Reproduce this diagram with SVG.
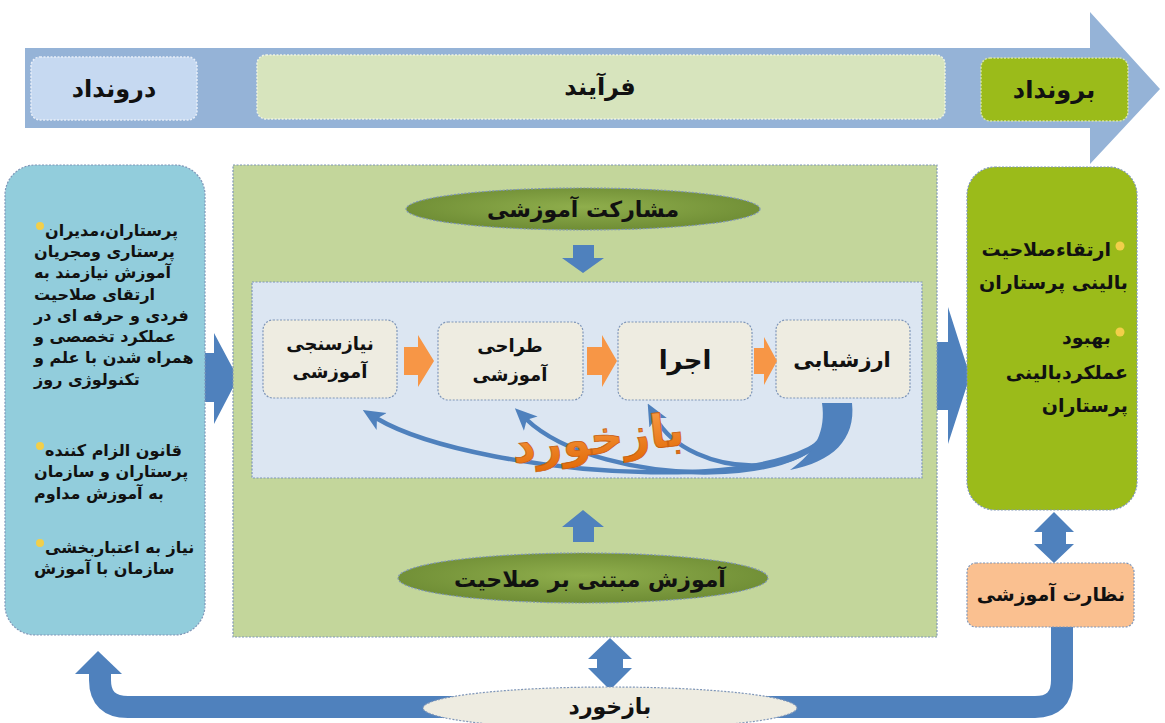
<svg xmlns="http://www.w3.org/2000/svg" width="1165" height="723" viewBox="0 0 1165 723">
<style>
.t{font-family:"DejaVu Sans","Noto Sans",sans-serif;font-weight:bold;fill:#111}
.bd{stroke:#7f96b8;stroke-width:1.2;stroke-dasharray:2 1.5}
.step{fill:#eeece1}
.blue{fill:#4f81bd}
.org{fill:#f79646}
.bul{fill:#f2cf4a}
</style>
<defs>
<radialGradient id="olive" cx="50%" cy="45%" r="60%">
<stop offset="0" stop-color="#8fae4c"/>
<stop offset="1" stop-color="#6c8a33"/>
</radialGradient>
<linearGradient id="orangeText" x1="0" y1="0" x2="0" y2="1">
<stop offset="0" stop-color="#f9a04a"/>
<stop offset="1" stop-color="#e36c0a"/>
</linearGradient>
<marker id="ah" viewBox="0 0 20 20" refX="6" refY="10" markerWidth="22" markerHeight="22" markerUnits="userSpaceOnUse" orient="auto">
<path d="M0,1 L20,10 L0,19 L5,10 z" fill="#4f81bd"/>
</marker>
</defs>
<rect width="1165" height="723" fill="#fff"/>

<g id="top-arrow">
<polygon points="25,48 1090,48 1090,12 1160,89 1090,164 1090,128 25,128" fill="#95b3d7"/>
</g>
<g id="input-label">
<rect x="31" y="57" width="166" height="63" rx="9" fill="#c6d9f1" stroke="#e8eef8" stroke-width="1.5" stroke-dasharray="2 1.5"/>
<text class="t" x="114" y="97" font-size="24" text-anchor="middle">درونداد</text>
</g>
<g id="process-label">
<rect x="257" y="55" width="688" height="64" rx="9" fill="#d7e4bd" stroke="#eef3e2" stroke-width="1.5" stroke-dasharray="2 1.5"/>
<text class="t" x="600" y="95" font-size="24" text-anchor="middle">فرآیند</text>
</g>
<g id="output-label">
<rect x="981" y="58" width="147" height="63" rx="9" fill="#9bbb1a" stroke="#d6e4a6" stroke-width="1.5" stroke-dasharray="2 1.5"/>
<text class="t" x="1054" y="98" font-size="24" text-anchor="middle">برونداد</text>
</g>

<g id="connectors">
<polygon class="blue" points="205,353 214,353 214,333 238,378 214,424 214,402 205,402"/>
<polygon class="blue" points="937,342 948,342 948,307 970,376 948,444 948,410 937,410"/>
<polygon class="blue" points="1054,512 1074,532 1066,532 1066,544 1074,544 1054,563 1034,544 1042,544 1042,532 1034,532"/>
<polygon class="blue" points="610,638 632,659 623,659 623,668 632,668 610,690 588,668 597,668 597,659 588,659"/>
<path d="M1062,627 V680 Q1062,707 1035,707 H128 Q100,707 100,680 V671" fill="none" stroke="#4f81bd" stroke-width="22"/>
<polygon class="blue" points="98,651 122,674 75,674"/>
</g>

<g id="input-box">
<rect x="5" y="165" width="200" height="470" rx="30" fill="#92cddc" class="bd"/>
<g class="t" font-size="16">
<circle class="bul" cx="40" cy="226" r="4"/>
<text x="45" y="236">پرستاران،مدیران</text>
<text x="34" y="257">پرستاری ومجریان</text>
<text x="34" y="278">آموزش نیازمند به</text>
<text x="34" y="300">ارتقای صلاحیت</text>
<text x="34" y="321">فردی و حرفه ای در</text>
<text x="34" y="342">عملکرد تخصصی و</text>
<text x="34" y="363">همراه شدن با علم و</text>
<text x="34" y="385">تکنولوژی روز</text>
<circle class="bul" cx="40" cy="446" r="4"/>
<text x="45" y="456">قانون الزام کننده</text>
<text x="34" y="477">پرستاران و سازمان</text>
<text x="34" y="499">به آموزش مداوم</text>
<circle class="bul" cx="40" cy="543" r="4"/>
<text x="45" y="553">نیاز به اعتباربخشی</text>
<text x="34" y="574">سازمان با آموزش</text>
</g>
</g>

<g id="process-box">
<rect x="233" y="165" width="704" height="472" fill="#c3d69b" class="bd"/>
</g>

<g id="participation">
<ellipse cx="583" cy="209" rx="177" ry="21" fill="url(#olive)" class="bd"/>
<text class="t" x="583" y="217" font-size="22" text-anchor="middle">مشارکت آموزشی</text>
</g>
<polygon class="blue" points="573,245 594,245 594,258 604,258 583,273 562,258 573,258"/>

<g id="cycle-box">
<rect x="252" y="282" width="670" height="196" fill="#dce6f2" class="bd"/>
</g>

<g id="needs">
<rect x="263" y="320" width="134" height="78" rx="10" class="step bd"/>
<text class="t" x="330" y="350" font-size="18" text-anchor="middle">نیازسنجی</text>
<text class="t" x="330" y="378" font-size="18" text-anchor="middle">آموزشی</text>
</g>
<g id="design">
<rect x="438" y="322" width="145" height="78" rx="10" class="step bd"/>
<text class="t" x="510" y="352" font-size="18" text-anchor="middle">طراحی</text>
<text class="t" x="510" y="381" font-size="18" text-anchor="middle">آموزشی</text>
</g>
<g id="implement">
<rect x="618" y="322" width="134" height="78" rx="10" class="step bd"/>
<text class="t" x="685" y="369" font-size="26" text-anchor="middle">اجرا</text>
</g>
<g id="evaluate">
<rect x="776" y="320" width="134" height="78" rx="10" class="step bd"/>
<text class="t" x="842" y="367" font-size="21" text-anchor="middle">ارزشیابی</text>
</g>

<g id="cycle-connectors">
<polygon class="org" points="404,347 418,347 418,335 434,361 418,387 418,375 404,375"/>
<polygon class="org" points="587,347 602,347 602,335 617,361 602,387 602,375 587,375"/>
<polygon class="org" points="754,348 764,348 764,337 777,361 764,385 764,374 754,374"/>
<path d="M838,405 C852,505 480,480 376,418" fill="none" stroke="#4f81bd" stroke-width="4.5" marker-end="url(#ah)"/>
<path d="M836,405 C842,495 600,490 526,419" fill="none" stroke="#4f81bd" stroke-width="4.5" marker-end="url(#ah)"/>
<path d="M834,405 C830,485 690,482 655,417" fill="none" stroke="#4f81bd" stroke-width="4.5" marker-end="url(#ah)"/>
<path d="M822,403 L852,403 C856,440 832,462 790,470 C816,452 826,430 822,403 Z" fill="#4f81bd"/>
</g>
<text class="t" x="598" y="454" font-size="46" text-anchor="middle" stroke="#c85f10" stroke-width="0.8" transform="rotate(-6 598 440)" style="fill:url(#orangeText)">بازخورد</text>

<polygon class="blue" points="583,510 604,527 594,527 594,542 573,542 573,527 562,527"/>
<g id="competency">
<ellipse cx="583" cy="578" rx="185" ry="25" fill="url(#olive)" class="bd"/>
<text class="t" x="590" y="587" font-size="22" text-anchor="middle">آموزش مبتنی بر صلاحیت</text>
</g>

<g id="output-box">
<rect x="967" y="167" width="170" height="343" rx="28" fill="#9bbb1a" class="bd"/>
<g class="t" font-size="19" text-anchor="end">
<circle class="bul" cx="1120" cy="246" r="4.5"/>
<text x="1111" y="256">ارتقاءصلاحیت</text>
<text x="1128" y="289">بالینی پرستاران</text>
<circle class="bul" cx="1120" cy="332" r="4.5"/>
<text x="1111" y="344">بهبود</text>
<text x="1128" y="379">عملکردبالینی</text>
<text x="1128" y="412">پرستاران</text>
</g>
</g>

<g id="supervision">
<rect x="967" y="563" width="167" height="64" rx="9" fill="#fac090" class="bd"/>
<text class="t" x="1051" y="601" font-size="19" text-anchor="middle">نظارت آموزشی</text>
</g>

<g id="feedback">
<ellipse cx="610" cy="708" rx="187" ry="21" class="step bd"/>
<text class="t" x="610" y="714" font-size="22" text-anchor="middle">بازخورد</text>
</g>
</svg>
